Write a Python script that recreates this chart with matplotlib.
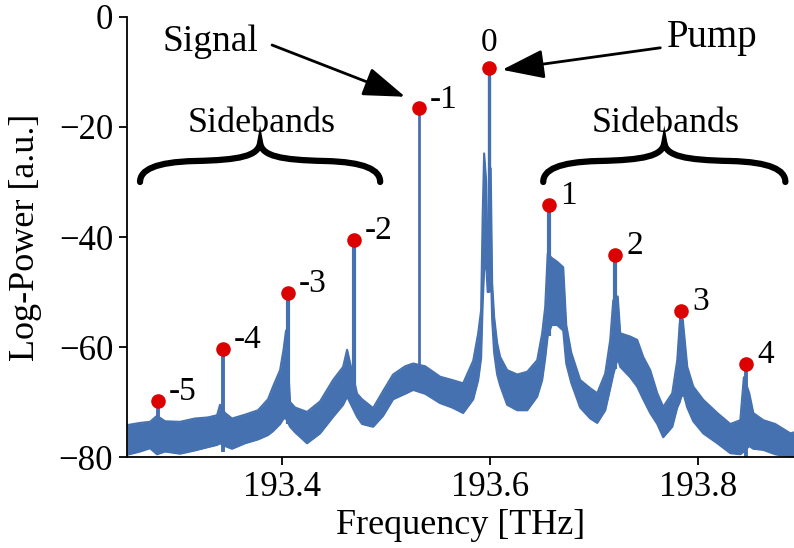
import matplotlib
matplotlib.use("Agg")
import matplotlib.pyplot as plt
from matplotlib.path import Path
from matplotlib.patches import PathPatch

plt.rcParams['font.family'] = ['Liberation Serif', 'DejaVu Serif']
plt.rcParams['font.size'] = 25

# ---- data ----
# noise-floor envelope (frequency in THz, upper and lower edge in dB)
freq = [193.2510, 193.2635, 193.2731, 193.2798, 193.2875, 193.3019, 193.3163, 193.3288,
        193.3375, 193.3404, 193.3452, 193.3519, 193.3644, 193.3769, 193.3865, 193.3913,
        193.3981, 193.4014, 193.4038, 193.4077, 193.4125, 193.4240, 193.4365, 193.4490,
        193.4587, 193.4625, 193.4721, 193.4769, 193.4875, 193.4971, 193.5067, 193.5183,
        193.5260, 193.5375, 193.5519, 193.5635, 193.5740, 193.5837, 193.5885, 193.5913,
        193.5928, 193.5942, 193.5962, 193.5976, 193.5986, 193.6005, 193.6019, 193.6038,
        193.6067, 193.6096, 193.6163, 193.6260, 193.6356, 193.6452, 193.6500, 193.6529,
        193.6553, 193.6591, 193.6644, 193.6702, 193.6731, 193.6779, 193.6865, 193.6962,
        193.7029, 193.7106, 193.7154, 193.7183, 193.7226, 193.7250, 193.7346, 193.7413,
        193.7471, 193.7538, 193.7606, 193.7663, 193.7750, 193.7798, 193.7822, 193.7851,
        193.7894, 193.7952, 193.8048, 193.8183, 193.8308, 193.8404, 193.8438, 193.8490,
        193.8529, 193.8625, 193.8740, 193.8885, 193.8923]
env_top = [-74.2, -73.8, -73.6, -72.5, -73.5, -73.6, -73.0, -72.8,
           -72.4, -70.5, -72.0, -73.0, -72.3, -71.5, -69.5, -67.2,
           -64.2, -60.5, -57.0, -70.0, -71.0, -71.8, -69.9, -66.0,
           -63.6, -60.5, -68.5, -69.5, -71.1, -68.0, -65.0, -63.5,
           -63.0, -63.5, -65.4, -66.0, -66.6, -62.5, -57.5, -53.3,
           -36.0, -24.8, -30.0, -44.7, -44.7, -27.5, -48.4, -54.5,
           -59.3, -61.8, -64.2, -65.0, -64.5, -62.4, -57.5, -52.7,
           -43.0, -43.8, -44.5, -45.5, -56.0, -61.0, -66.0, -67.5,
           -68.4, -64.8, -58.7, -51.5, -50.8, -57.5, -58.1, -58.7,
           -61.8, -64.2, -68.4, -70.9, -68.4, -62.4, -55.7, -55.0,
           -63.6, -67.2, -69.6, -72.0, -74.0, -73.3, -65.5, -68.4,
           -72.0, -73.3, -74.0, -75.7, -75.5]
env_bot = [-79.6, -79.0, -78.4, -79.5, -79.0, -79.4, -78.8, -78.2,
           -77.8, -77.5, -78.0, -78.5, -77.5, -76.8, -76.0, -75.3,
           -74.0, -73.0, -73.0, -74.5, -75.5, -77.5, -75.7, -72.7,
           -70.5, -69.0, -72.7, -74.0, -74.5, -72.5, -69.5, -68.5,
           -67.8, -68.5, -70.2, -71.0, -72.0, -69.5, -66.0, -62.0,
           -52.0, -46.0, -45.0, -50.0, -50.0, -44.0, -55.0, -61.0,
           -65.0, -67.0, -70.5, -71.5, -71.5, -69.0, -66.0, -62.0,
           -58.0, -56.0, -56.0, -57.0, -63.0, -66.5, -71.0, -73.0,
           -73.8, -71.5, -67.5, -65.0, -62.0, -63.6, -65.5, -67.2,
           -69.5, -72.0, -74.0, -76.4, -74.5, -71.0, -70.0, -68.0,
           -71.0, -73.5, -75.7, -77.5, -79.3, -79.5, -79.0, -78.0,
           -78.5, -78.7, -79.5, -80.0, -80.0]

# comb lines
peak_freq = [193.2803, 193.3430, 193.4058, 193.4692, 193.5317, 193.5993,
             193.6567, 193.7202, 193.7834, 193.8462]
peak_power = [-69.8, -60.4, -50.2, -40.5, -16.6, -9.3, -34.2, -43.3, -53.4, -63.1]
peak_base = [-79.5, -79.0, -74.0, -71.0, -67.0, -50.0, -58.0, -64.0, -69.0, -80.0]
peak_labels = ['-5', '-4', '-3', '-2', '-1', '0', '1', '2', '3', '4']

xticks = [193.4, 193.6, 193.8]
yticks = [0, -20, -40, -60, -80]

blue = '#4571b0'
red = '#dd0000'
peak_lw = [2.8, 2.8, 3.0, 3.0, 2.0, 2.4, 3.0, 3.0, 3.0, 2.8]

fig = plt.figure(figsize=(7.94, 5.48), dpi=100)
ax = fig.add_axes([0.16, 0.166, 0.84, 0.803])

ax.fill_between(freq, env_bot, env_top, color=blue, lw=0)
ax.plot(freq, env_top, color=blue, lw=1.5)
ax.plot(freq, env_bot, color=blue, lw=1.5)
ax.vlines(peak_freq, peak_base, peak_power, color=blue, linewidths=peak_lw)
ax.scatter(peak_freq, peak_power, s=110, color=red, zorder=5, linewidths=0)

for f, p, lab in zip(peak_freq, peak_power, peak_labels):
    if lab == '0':
        ax.annotate(lab, (f, p), xytext=(0, 18), textcoords='offset points',
                    ha='center', va='center', fontsize=24)
    else:
        ax.annotate(lab, (f, p), xytext=(8, 6.5), textcoords='offset points',
                    ha='left', va='center', fontsize=24)

# arrows with labels
arrow_kw = dict(arrowstyle='-|>,head_length=1.3,head_width=0.45', color='black',
                lw=2, mutation_scale=20, shrinkA=0, shrinkB=0)
ax.annotate('', xy=(193.5183, -14.5), xytext=(193.3904, -5.1), arrowprops=arrow_kw)
ax.text(193.3308, -4.5, 'Signal', ha='center', va='center', fontsize=27)
ax.annotate('', xy=(193.6115, -9.6), xytext=(193.7635, -5.6), arrowprops=arrow_kw)
ax.text(193.8135, -3.8, 'Pump', ha='center', va='center', fontsize=28)

# sidebands braces
def brace(x0, y0, width_px):
    pxf = 1.0 / 1040.0
    pyv = 1.0 / 5.5
    W = width_px
    pts = [(0, 0), (0, 12), (15, 20), (55, 21),
           (W / 2 - 20, 22), (W / 2 - 2, 26), (W / 2, 39),
           (W / 2 + 2, 26), (W / 2 + 20, 22), (W - 55, 21),
           (W - 15, 20), (W, 12), (W, 0)]
    verts = [(x0 + x * pxf, y0 + y * pyv) for (x, y) in pts]
    codes = [Path.MOVETO] + [Path.CURVE4] * 12
    patch = PathPatch(Path(verts, codes), fill=False, lw=4.5, ec='black',
                      capstyle='round', joinstyle='miter')
    ax.add_patch(patch)

brace(193.2635, -30.0, 240)
brace(193.6510, -30.0, 242)
ax.text(193.3808, -19.3, 'Sidebands', ha='center', va='center', fontsize=26)
ax.text(193.7683, -19.3, 'Sidebands', ha='center', va='center', fontsize=26)

ax.set_xlim(193.251, 193.892)
ax.set_ylim(-80, 0)
ax.set_xticks(xticks)
ax.set_yticks(yticks)
ax.set_xlabel('Frequency [THz]', fontsize=26, labelpad=4)
ax.set_ylabel('Log-Power [a.u.]', fontsize=26, labelpad=12)
for s in ['top', 'right']:
    ax.spines[s].set_visible(False)
for s in ['left', 'bottom']:
    ax.spines[s].set_linewidth(1.3)
ax.tick_params(direction='out', length=6, width=1.3, labelsize=25, pad=4)

fig.savefig('out.png', dpi=100)
